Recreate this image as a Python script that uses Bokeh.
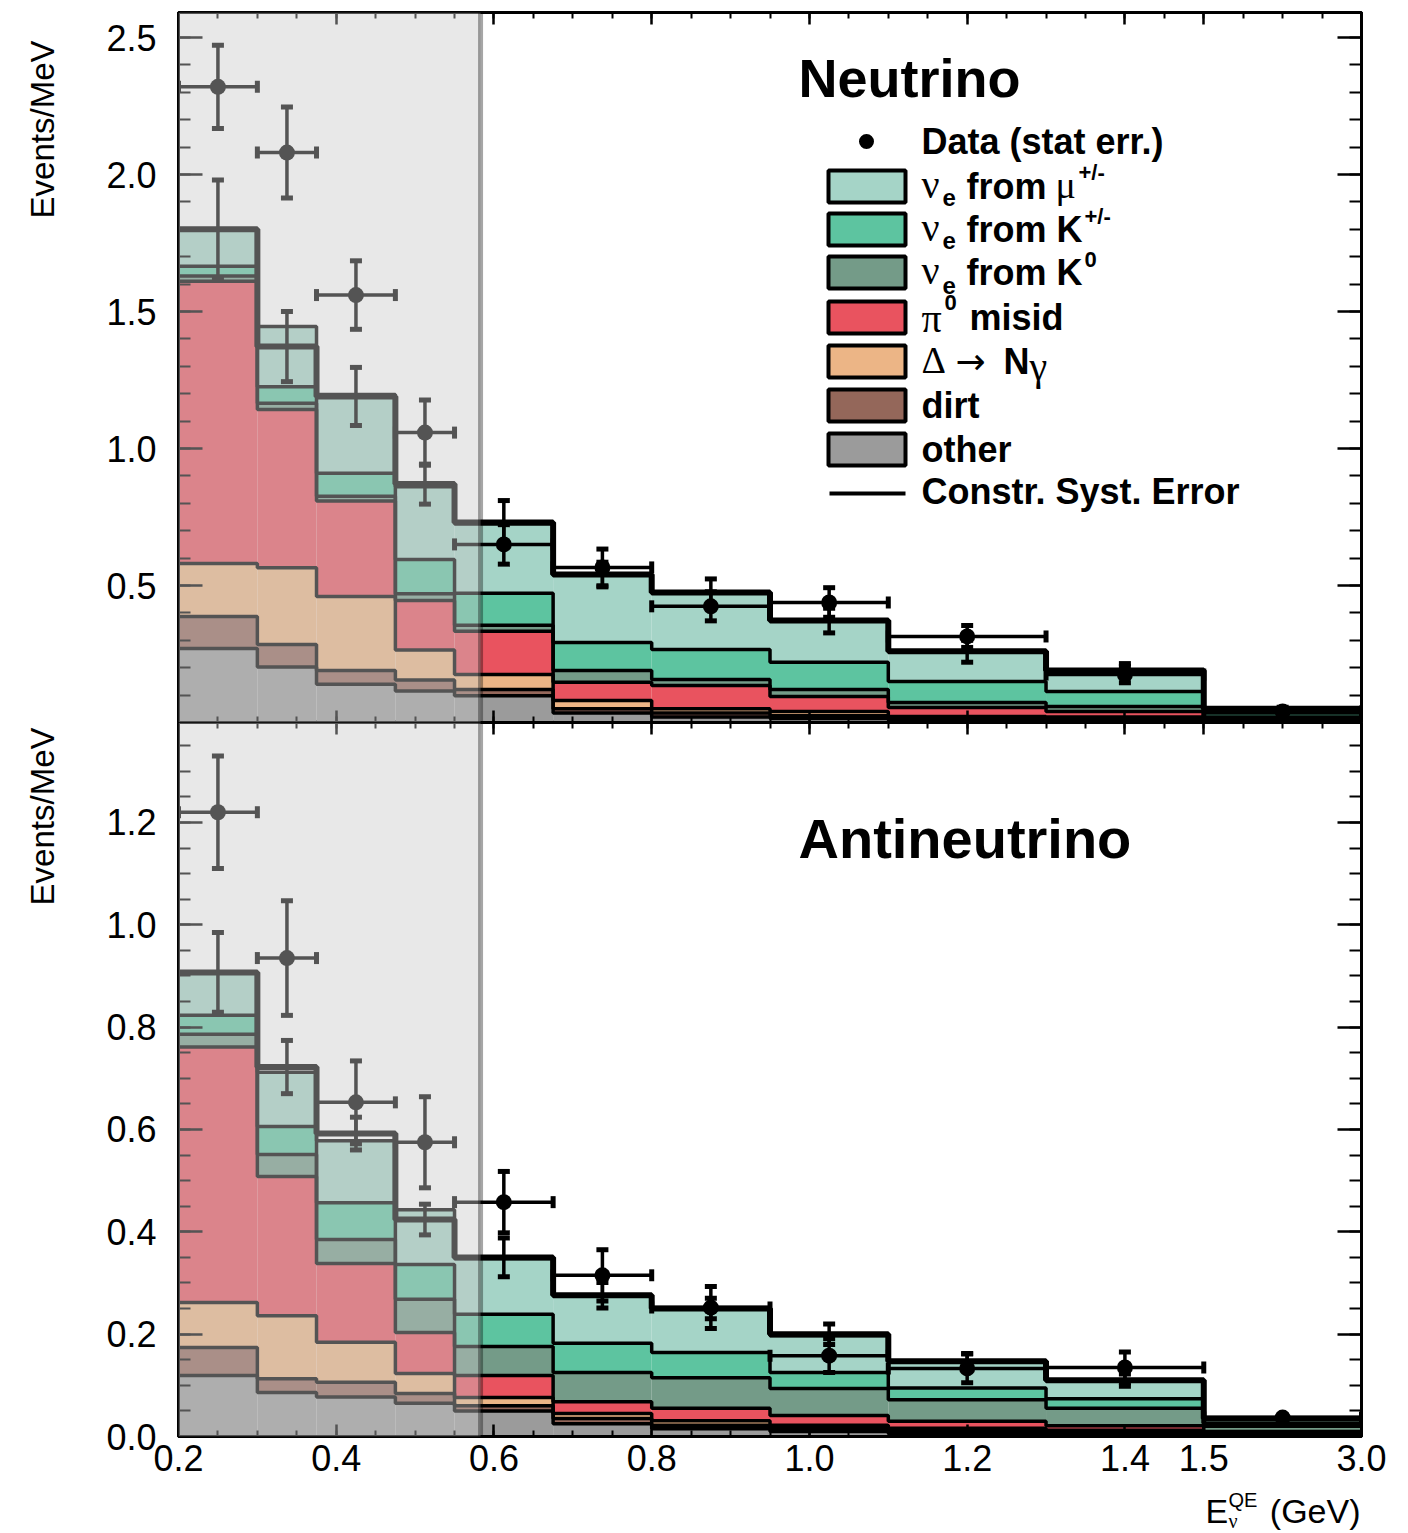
import numpy as np
from bokeh.plotting import figure
from bokeh.models import (Range1d, FixedTicker, LinearAxis, Label, BoxAnnotation,
                          Span, PrintfTickFormatter, CustomLabelingPolicy)
from bokeh.layouts import column, row
from bokeh.embed import file_html
from bokeh.resources import INLINE

# ---------------- data ----------------
bin_edges = [0.2, 0.3, 0.375, 0.475, 0.55, 0.675, 0.8, 0.95, 1.1, 1.3, 1.5, 3.0]  # GeV

component_names = ["other", "dirt", "delta", "pi0", "k0", "kpm", "mu"]  # stacked bottom -> top
component_colors = ["#9b9b9b", "#94675a", "#ecb586", "#e9535f", "#749b88", "#5dc4a0", "#a5d4c7"]

# Neutrino mode (Events/MeV)
nu_other = [0.27, 0.203, 0.14, 0.115, 0.098, 0.035, 0.02, 0.015, 0.008, 0.006, 0.002]
nu_dirt = [0.117, 0.082, 0.05, 0.04, 0.022, 0.015, 0.015, 0.01, 0.006, 0.006, 0.002]
nu_delta = [0.193, 0.28, 0.27, 0.11, 0.055, 0.03, 0.015, 0.015, 0.008, 0.008, 0.002]
nu_pi0 = [1.03, 0.577, 0.348, 0.18, 0.158, 0.067, 0.085, 0.055, 0.033, 0.02, 0.006]
nu_k0 = [0.02, 0.023, 0.018, 0.025, 0.022, 0.043, 0.022, 0.025, 0.018, 0.018, 0.008]
nu_kpm = [0.035, 0.06, 0.084, 0.125, 0.117, 0.102, 0.109, 0.1, 0.077, 0.055, 0.015]
nu_mu = [0.135, 0.22, 0.287, 0.265, 0.253, 0.245, 0.208, 0.152, 0.11, 0.067, 0.015]
nu_constr = [1.80, 1.372, 1.19, 0.87, 0.73, 0.54, 0.474, 0.372, 0.26, 0.19, 0.05]
nu_syst = [0.18, 0.128, 0.106, 0.073, 0.08, 0.045, 0.05, 0.045, 0.04, 0.025, 0.006]
nu_data = [2.32, 2.08, 1.56, 1.058, 0.65, 0.566, 0.424, 0.438, 0.314, 0.175, 0.04]
nu_data_err = [0.152, 0.166, 0.125, 0.119, 0.072, 0.067, 0.053, 0.054, 0.04, 0.03, 0.005]

# Antineutrino mode (Events/MeV)
nub_other = [0.119, 0.086, 0.077, 0.065, 0.05, 0.025, 0.015, 0.01, 0.006, 0.004, 0.002]
nub_dirt = [0.055, 0.027, 0.029, 0.019, 0.01, 0.01, 0.007, 0.006, 0.004, 0.004, 0.002]
nub_delta = [0.088, 0.123, 0.078, 0.039, 0.016, 0.01, 0.009, 0.006, 0.006, 0.004, 0.002]
nub_pi0 = [0.499, 0.272, 0.154, 0.08, 0.043, 0.023, 0.024, 0.019, 0.014, 0.009, 0.004]
nub_k0 = [0.025, 0.043, 0.047, 0.065, 0.057, 0.057, 0.06, 0.053, 0.042, 0.034, 0.01]
nub_kpm = [0.037, 0.055, 0.072, 0.068, 0.063, 0.057, 0.049, 0.031, 0.023, 0.019, 0.006]
nub_mu = [0.084, 0.106, 0.121, 0.107, 0.109, 0.094, 0.086, 0.072, 0.05, 0.036, 0.009]
nub_constr = [0.907, 0.722, 0.592, 0.424, 0.35, 0.276, 0.25, 0.2, 0.147, 0.11, 0.035]
nub_syst = [0.078, 0.052, 0.032, 0.03, 0.038, 0.025, 0.02, 0.02, 0.015, 0.012, 0.004]
nub_data = [1.22, 0.935, 0.653, 0.575, 0.458, 0.315, 0.252, 0.158, 0.133, 0.135, 0.037]
nub_data_err = [0.11, 0.112, 0.081, 0.089, 0.06, 0.05, 0.041, 0.033, 0.028, 0.03, 0.005]

x_major_ticks = [0.2, 0.4, 0.6, 0.8, 1.0, 1.2, 1.4, 1.5, 3.0]
nu_y_ticks = [0.5, 1.0, 1.5, 2.0, 2.5]
nub_y_ticks = [0.0, 0.2, 0.4, 0.6, 0.8, 1.0, 1.2]

shade_end = 0.583  # GeV, end of the shaded low-energy region

# ---------------- axis break (1.5-3.0 GeV compressed) ----------------
BREAK = 1.5
COMPRESS = 0.2 / 1.5


def to_disp(e):
    e = np.asarray(e, dtype=float)
    return np.where(e <= BREAK, e, BREAK + (e - BREAK) * COMPRESS)


X0, X1 = 0.2, float(to_disp(3.0))
FONT = "Liberation Sans"
SERIF = "Liberation Serif"

# page layout (pixels)
W = 1408
LEFT_STRIP = 70
FR_L, FR_R = 178, 1361
TOP_T, TOP_B = 12, 722
BOT_T, BOT_B = 722, 1436
BOT_BORDER = 50
PAGE_H = 1533
NU_YMAX = (TOP_B - TOP_T) / 274.0
NUB_YMAX = (BOT_B - BOT_T) / 511.7

xr = Range1d(X0, X1)
no_labels = CustomLabelingPolicy(code="return new Set()")


def style_axis(ax, ticks, minor, tick_in, minor_in, labels, fmt=None, overrides=None):
    ax.ticker = FixedTicker(ticks=ticks, minor_ticks=minor)
    ax.axis_line_width = 3
    ax.axis_line_color = "black"
    ax.major_tick_in = tick_in
    ax.major_tick_out = 0
    ax.minor_tick_in = minor_in
    ax.minor_tick_out = 0
    ax.major_tick_line_width = 2.5
    ax.minor_tick_line_width = 2
    ax.major_tick_line_color = "black"
    ax.minor_tick_line_color = "black"
    if labels:
        ax.major_label_text_font = FONT
        ax.major_label_text_font_size = "36px"
        ax.major_label_text_color = "black"
        if fmt is not None:
            ax.formatter = fmt
        if overrides:
            ax.major_label_overrides = overrides
    else:
        ax.major_label_policy = no_labels
        ax.major_label_text_font_size = "0px"
        ax.major_label_standoff = 0


def make_fig(height, yrange, top_border, bottom_border):
    p = figure(width=W - LEFT_STRIP, height=height, x_range=xr, y_range=yrange,
               output_backend="svg", toolbar_location=None,
               min_border_left=FR_L - LEFT_STRIP, min_border_right=W - FR_R,
               min_border_top=top_border, min_border_bottom=bottom_border)
    p.xgrid.visible = False
    p.ygrid.visible = False
    p.outline_line_color = "black"
    p.outline_line_width = 3
    p.background_fill_color = "white"
    p.border_fill_color = "white"
    return p


def make_strip(width, height, x0, y_top):
    # blank helper canvas whose data units are page pixels
    s = figure(width=width, height=height, x_range=Range1d(x0, x0 + width),
               y_range=Range1d(y_top + height, y_top), output_backend="svg",
               toolbar_location=None, x_axis_type=None, y_axis_type=None,
               min_border=0)
    s.xgrid.visible = False
    s.ygrid.visible = False
    s.outline_line_color = None
    s.background_fill_color = "white"
    s.border_fill_color = "white"
    return s


x_disp_major = [float(v) for v in to_disp(x_major_ticks)]
x_disp_minor = [round(0.2 + 0.05 * i, 4) for i in range(31)]
x_overrides = {x_disp_major[-1]: "3.0"}


def draw_panel(p, comps, constr, syst, data, derr, y_ticks, y_minor, x_labels):
    edges = to_disp(bin_edges)
    left, right = edges[:-1], edges[1:]
    centers = to_disp([(a + b) / 2 for a, b in zip(bin_edges[:-1], bin_edges[1:])])
    cum = np.zeros(len(left))
    levels = []
    for vals, col in zip(comps, component_colors):
        bottom = cum.copy()
        cum = cum + np.asarray(vals)
        p.quad(left=left, right=right, bottom=bottom, top=cum,
               fill_color=col, line_alpha=0)
        levels.append(cum.copy())
    xs = list(edges)
    for lev in levels:
        p.step(x=xs, y=list(lev) + [lev[-1]], mode="after",
               line_color="black", line_width=3.5)
    # constrained prediction with systematic error
    c = np.asarray(constr)
    s = np.asarray(syst)
    p.step(x=xs, y=list(c) + [c[-1]], mode="after", line_color="black", line_width=6)
    p.segment(x0=centers, y0=c - s, x1=centers, y1=c + s, line_color="black", line_width=3.5)
    p.rect(x=np.concatenate([centers, centers]), y=np.concatenate([c - s, c + s]),
           width=12, height=5, width_units="screen", height_units="screen",
           fill_color="black", line_color=None)
    # data with statistical error
    d = np.asarray(data)
    e = np.asarray(derr)
    p.segment(x0=left, y0=d, x1=right, y1=d, line_color="black", line_width=3.5)
    p.rect(x=np.concatenate([left, right]), y=np.concatenate([d, d]),
           width=5, height=12, width_units="screen", height_units="screen",
           fill_color="black", line_color=None)
    p.segment(x0=centers, y0=d - e, x1=centers, y1=d + e, line_color="black", line_width=3.5)
    p.rect(x=np.concatenate([centers, centers]), y=np.concatenate([d - e, d + e]),
           width=12, height=5, width_units="screen", height_units="screen",
           fill_color="black", line_color=None)
    p.scatter(x=centers, y=d, size=16, fill_color="black", line_color=None)

    # shaded region
    p.add_layout(BoxAnnotation(left=X0, right=shade_end, fill_color="#c8c8c8",
                               fill_alpha=0.42, line_color=None, level="overlay"))
    p.add_layout(Span(location=shade_end, dimension="height", line_color="black",
                      line_alpha=0.35, line_width=5, level="overlay"))

    # axes (ROOT style: inward ticks on all four sides)
    style_axis(p.xaxis[0], x_disp_major, x_disp_minor, 12, 6, x_labels,
               PrintfTickFormatter(format="%.1f"), x_overrides)
    if x_labels:
        p.xaxis[0].major_label_standoff = 8
    style_axis(p.yaxis[0], y_ticks, y_minor, 24, 12, True, PrintfTickFormatter(format="%.1f"))
    p.yaxis[0].major_label_standoff = 22
    ax_top = LinearAxis()
    style_axis(ax_top, x_disp_major, x_disp_minor, 12, 6, False)
    p.add_layout(ax_top, "above")
    ax_r = LinearAxis()
    style_axis(ax_r, y_ticks, y_minor, 24, 12, False)
    p.add_layout(ax_r, "right")


def make_conv(top_px, bot_px, ymax):
    def cx(px):
        return X0 + (px - FR_L) / (FR_R - FR_L) * (X1 - X0)

    def cy(py):
        return (bot_px - py) / (bot_px - top_px) * ymax
    return cx, cy


def label(p, cx, cy, px, py, text, size, bold=True, font=FONT, align="left", angle=0.0):
    p.add_layout(Label(x=cx(px), y=cy(py), text=text, text_font=font,
                       text_font_size=f"{size}px",
                       text_font_style="bold" if bold else "normal",
                       text_color="black", text_align=align, text_baseline="middle",
                       angle=angle))


def ident(v):
    return v


# ---------------- top panel: neutrino ----------------
p1 = make_fig(TOP_B, Range1d(0, NU_YMAX), TOP_T, 0)
nu_minor = [round(0.1 * i, 2) for i in range(1, 26)]
draw_panel(p1, [nu_other, nu_dirt, nu_delta, nu_pi0, nu_k0, nu_kpm, nu_mu],
           nu_constr, nu_syst, nu_data, nu_data_err, nu_y_ticks, nu_minor, False)
cx1, cy1 = make_conv(TOP_T, TOP_B, NU_YMAX)
label(p1, cx1, cy1, 798, 77, "Neutrino", 54)

# legend
box_l, box_r = 828, 905
rows = [186, 229, 272, 317, 361, 405, 449]
legend_colors = component_colors[::-1]
p1.quad(left=[cx1(box_l)] * 7, right=[cx1(box_r)] * 7,
        bottom=[cy1(r + 16) for r in rows], top=[cy1(r - 16) for r in rows],
        fill_color=legend_colors, line_color="black", line_width=4)
p1.scatter(x=[cx1(866)], y=[cy1(141)], size=15, fill_color="black", line_color=None)
p1.segment(x0=[cx1(829)], y0=[cy1(493)], x1=[cx1(905)], y1=[cy1(493)],
           line_color="black", line_width=4)
TX = 921
label(p1, cx1, cy1, TX, 141, "Data (stat err.)", 36)
# row 1: nu_e from mu+/-
label(p1, cx1, cy1, TX, 184, "ν", 40, bold=False, font=SERIF)
label(p1, cx1, cy1, TX + 21, 197, "e", 24)
label(p1, cx1, cy1, TX + 45, rows[0], "from", 36)
label(p1, cx1, cy1, TX + 134, 184, "μ", 38, bold=False, font=SERIF)
label(p1, cx1, cy1, TX + 157, 172, "+/-", 22)
# row 2: nu_e from K+/-
label(p1, cx1, cy1, TX, 227, "ν", 40, bold=False, font=SERIF)
label(p1, cx1, cy1, TX + 21, 240, "e", 24)
label(p1, cx1, cy1, TX + 45, rows[1], "from K", 36)
label(p1, cx1, cy1, TX + 163, 216, "+/-", 22)
# row 3: nu_e from K0
label(p1, cx1, cy1, TX, 270, "ν", 40, bold=False, font=SERIF)
label(p1, cx1, cy1, TX + 21, 285, "e", 24)
label(p1, cx1, cy1, TX + 45, rows[2], "from K", 36)
label(p1, cx1, cy1, TX + 163, 259, "0", 22)
# row 4: pi0 misid
label(p1, cx1, cy1, TX, 318, "π", 40, bold=False, font=SERIF)
label(p1, cx1, cy1, TX + 23, 302, "0", 22)
label(p1, cx1, cy1, TX + 48, rows[3], "misid", 36)
# row 5: Delta -> N gamma
label(p1, cx1, cy1, TX, 359, "Δ", 38, bold=False, font=SERIF)
label(p1, cx1, cy1, TX + 34, 361, "→", 36, bold=False, font="DejaVu Sans")
label(p1, cx1, cy1, TX + 82, rows[4], "N", 36)
label(p1, cx1, cy1, TX + 108, 366, "γ", 40, bold=False, font=SERIF)
label(p1, cx1, cy1, TX, rows[5], "dirt", 36)
label(p1, cx1, cy1, TX, rows[6], "other", 36)
label(p1, cx1, cy1, TX, 491, "Constr. Syst. Error", 36)

# ---------------- bottom panel: antineutrino ----------------
p2 = make_fig(BOT_B - BOT_T + BOT_BORDER, Range1d(0, NUB_YMAX), 0, BOT_BORDER)
nub_minor = [round(0.05 * i, 3) for i in range(0, 28)]
draw_panel(p2, [nub_other, nub_dirt, nub_delta, nub_pi0, nub_k0, nub_kpm, nub_mu],
           nub_constr, nub_syst, nub_data, nub_data_err, nub_y_ticks, nub_minor, True)
cx2, cy2 = make_conv(BOT_T, BOT_B, NUB_YMAX)
label(p2, cx2, cy2, 798, 838, "Antineutrino", 56)

# ---------------- left strip: y-axis titles ----------------
strip_h = BOT_B + BOT_BORDER
pl = make_strip(LEFT_STRIP, strip_h, 0, 0)
label(pl, ident, ident, 42, 40, "Events/MeV", 33, bold=False, align="right", angle=np.pi / 2)
label(pl, ident, ident, 42, 727, "Events/MeV", 33, bold=False, align="right", angle=np.pi / 2)

# ---------------- bottom strip: x-axis title  E_nu^QE (GeV) ----------------
pb = make_strip(W, PAGE_H - strip_h, 0, strip_h)
label(pb, ident, ident, 1360, 1510, "(GeV)", 34, bold=False, align="right")
label(pb, ident, ident, 1228, 1499, "QE", 20, bold=False)
label(pb, ident, ident, 1228, 1520, "ν", 20, bold=False, font=SERIF)
label(pb, ident, ident, 1205, 1510, "E", 34, bold=False)

layout = column(row(pl, column(p1, p2)), pb)
open("out.html", "w").write(file_html(layout, INLINE))
